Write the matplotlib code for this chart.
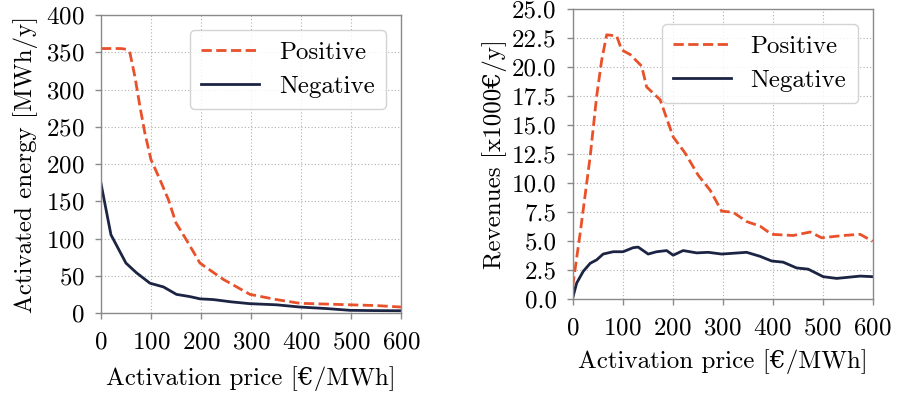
import matplotlib
matplotlib.use("Agg")
import matplotlib.pyplot as plt

plt.rcParams['font.family'] = ['cmr10', 'DejaVu Serif']
plt.rcParams['mathtext.fontset'] = 'cm'
plt.rcParams['axes.formatter.use_mathtext'] = True
plt.rcParams['font.size'] = 18

# Left chart: activated energy
energy_pos_x = [0, 20, 40, 51, 58, 68, 78, 88, 100, 118, 135, 150, 171, 198, 245, 298, 351, 398, 450, 498, 550, 600]
energy_pos_y = [355, 355, 355, 354, 349, 317, 277, 241, 206, 179, 152, 121, 98, 67, 45, 25, 18, 13, 12, 11, 10, 8]
energy_neg_x = [0, 20, 50, 71, 98, 125, 151, 178, 198, 225, 260, 298, 351, 398, 450, 498, 550, 600]
energy_neg_y = [174, 105, 67, 54, 40, 35, 25, 22, 19, 18, 15, 12.5, 11, 8, 6, 3.6, 3.2, 3]

# Right chart: revenues
rev_pos_x = [0, 15, 35, 48, 58, 68, 88, 98, 115, 138, 148, 175, 201, 225, 251, 275, 298, 321, 348, 375, 398, 441, 475, 498, 541, 575, 600]
rev_pos_y = [1.1, 5.7, 12.3, 17.5, 20.6, 22.8, 22.7, 21.5, 21.1, 20.1, 18.3, 17.2, 14.0, 12.6, 10.7, 9.4, 7.6, 7.5, 6.7, 6.3, 5.6, 5.5, 5.8, 5.3, 5.5, 5.6, 5.0]
rev_neg_x = [0, 8, 21, 35, 48, 61, 81, 101, 121, 131, 151, 168, 188, 201, 221, 248, 271, 298, 348, 375, 398, 421, 448, 471, 501, 528, 575, 600]
rev_neg_y = [0.1, 1.4, 2.4, 3.1, 3.4, 3.9, 4.1, 4.1, 4.45, 4.5, 3.9, 4.1, 4.2, 3.8, 4.2, 4.0, 4.05, 3.9, 4.05, 3.7, 3.3, 3.2, 2.7, 2.6, 1.95, 1.8, 2.0, 1.95]

xticks = [0, 100, 200, 300, 400, 500, 600]
yticks_left = [0, 50, 100, 150, 200, 250, 300, 350, 400]
yticks_right = [0.0, 2.5, 5.0, 7.5, 10.0, 12.5, 15.0, 17.5, 20.0, 22.5, 25.0]

C_POS = '#E8512A'
C_NEG = '#1C2444'
GREY = '#8a8a8a'
FS = 18

fig = plt.figure(figsize=(8.99, 3.95), dpi=100)
ax1 = fig.add_axes([0.1123, 0.2076, 0.3337, 0.7544])
ax2 = fig.add_axes([0.637, 0.2423, 0.3337, 0.7342])


def style(ax):
    for s in ax.spines.values():
        s.set_color(GREY)
        s.set_linewidth(1.0)
    ax.tick_params(direction='out', length=4, width=1, color=GREY, labelsize=FS)
    ax.tick_params(axis='x', pad=9)
    ax.tick_params(axis='y', pad=7.5)
    ax.grid(True, linestyle=(0, (1, 2)), color='#b0b0b0', linewidth=0.8)
    ax.set_axisbelow(True)


ax1.plot(energy_pos_x, energy_pos_y, color=C_POS, linestyle='--', linewidth=2, label='Positive')
ax1.plot(energy_neg_x, energy_neg_y, color=C_NEG, linestyle='-', linewidth=2, label='Negative')
ax1.set_xlim(0, 600)
ax1.set_ylim(0, 400)
ax1.set_xticks(xticks)
ax1.set_yticks(yticks_left)
ax1.set_xlabel('Activation price [€/MWh]', fontsize=FS, labelpad=9)
ax1.set_ylabel('Activated energy [MWh/y]', fontsize=FS, labelpad=6)
style(ax1)
leg1 = ax1.legend(loc='upper right', fontsize=FS, fancybox=True, framealpha=0.85,
                  edgecolor='#cccccc', handlelength=2.3, borderpad=0.45, labelspacing=0.45,
                  handletextpad=0.8, borderaxespad=0.6)

ax2.plot(rev_pos_x, rev_pos_y, color=C_POS, linestyle='--', linewidth=2, label='Positive')
ax2.plot(rev_neg_x, rev_neg_y, color=C_NEG, linestyle='-', linewidth=2, label='Negative')
ax2.set_xlim(0, 600)
ax2.set_ylim(0, 25)
ax2.set_xticks(xticks)
ax2.set_yticks(yticks_right)
ax2.set_yticklabels([f'{v:.1f}' for v in yticks_right])
ax2.set_xlabel('Activation price [€/MWh]', fontsize=FS, labelpad=7)
ax2.set_ylabel('Revenues [x1000€/y]', fontsize=FS, labelpad=4)
style(ax2)
leg2 = ax2.legend(loc='upper right', fontsize=FS, fancybox=True, framealpha=0.85,
                  edgecolor='#cccccc', handlelength=2.3, borderpad=0.45, labelspacing=0.45,
                  handletextpad=0.8, borderaxespad=0.6)

fig.savefig('out.png', dpi=100)
